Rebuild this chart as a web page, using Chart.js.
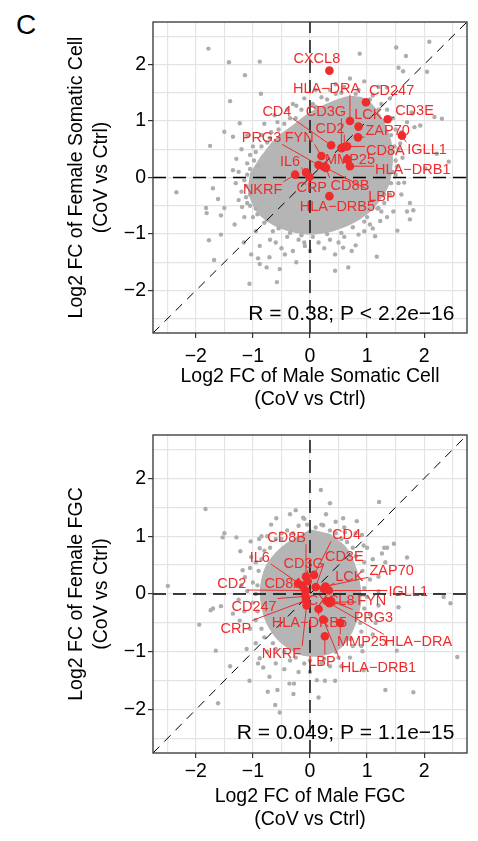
<!DOCTYPE html>
<html>
<head>
<meta charset="utf-8">
<script src="https://cdn.jsdelivr.net/npm/chart.js@4.4.0/dist/chart.umd.min.js"></script>
<style>
  body { margin: 0; background: #fff; width: 478px; height: 841px; position: relative; overflow: hidden; font-family: "Liberation Sans", Arial, sans-serif; }
  #letter { position: absolute; left: 16px; top: 11px; font-size: 28px; line-height: 1; color: #000; }
  .panel { position: absolute; left: 0; width: 478px; height: 420px; }
</style>
</head>
<body>
<div id="letter">C</div>
<div class="panel" style="top:0"><canvas id="topChart" width="478" height="420"></canvas></div>
<div class="panel" style="top:420px"><canvas id="bottomChart" width="478" height="420"></canvas></div>

<script>
// ---- data: somatic cells (top panel) ----
const topGenes = ["CXCL8","HLA\u2212DRA","CD247","CD3E","LCK","ZAP70","IGLL1","CD4","CD3G","CD2","CD8A","FYN","PRG3","MMP25","HLA\u2212DRB1","CD8B","LBP","IL6","NKRF","CRP","HLA\u2212DRB5"];
const topGenePts = [[0.34,1.89],[0.70,1.00],[0.98,1.33],[1.36,1.03],[0.85,0.90],[0.84,0.71],[1.61,0.74],[0.37,0.57],[0.55,0.52],[0.60,0.54],[0.65,0.55],[0.20,0.38],[0.15,0.22],[0.65,0.32],[0.70,0.20],[0.28,0.17],[0.24,0.19],[-0.07,0.09],[-0.26,0.05],[-0.01,0.01],[0.34,-0.33]];
const topLabelPos = [[0.12,2.11],[0.29,1.59],[1.43,1.54],[1.83,1.19],[1.02,1.12],[1.36,0.84],[2.05,0.50],[-0.58,1.17],[0.28,1.17],[0.35,0.88],[1.32,0.49],[-0.19,0.71],[-0.85,0.71],[0.70,0.32],[1.80,0.15],[0.70,-0.13],[1.26,-0.33],[-0.35,0.30],[-0.83,-0.20],[0.03,-0.17],[0.48,-0.50]];
const topCoreOuter = [[-0.86,0.38],[-0.60,0.70],[-0.30,0.93],[0,1.16],[0.35,1.33],[0.70,1.44],[1.00,1.38],[1.25,1.08],[1.42,0.66],[1.45,0.25],[1.37,-0.17],[1.13,-0.53],[0.83,-0.77],[0.41,-0.95],[-0.06,-1.01],[-0.55,-0.89],[-0.91,-0.64],[-1.08,-0.27],[-1.05,0.08]];
const topCoreInner = [[-0.72,0.33],[-0.48,0.63],[-0.18,0.87],[0.20,1.10],[0.62,1.27],[0.98,1.20],[1.20,0.80],[1.28,0.25],[1.15,-0.28],[0.78,-0.65],[0.22,-0.83],[-0.32,-0.76],[-0.74,-0.50],[-0.90,-0.08]];
const topGray = [
  [-1.78,2.28],[-1.42,2.04],[-0.88,2.05],[-1.14,1.81],[-0.86,1.48],[-1.40,1.35],[-1.23,0.96],[-1.50,0.81],[-1.35,0.72],[-1.75,0.56],[-0.24,1.27],[-0.57,0.98],[-1.29,0.33],[-1.35,0.13],
  [0.87,2.19],[1.51,2.30],[1.68,2.15],[2.09,2.40],[1.63,1.88],[1.55,1.94],[2.05,1.87],[1.35,1.59],[1.78,1.15],[1.70,0.98],[1.93,0.92],[2.31,1.04],[2.43,0.28],[2.22,0.42],[2.02,0.16],[1.80,1.13],[2.18,1.07],[1.83,0.89],
  [1.65,-0.09],[1.81,-0.58],[1.75,-0.74],[1.53,-0.94],[1.17,-1.40],[-0.58,-1.85],[-0.76,-1.59],[-0.91,-1.43],[-1.77,-1.11],[-1.81,-0.63],[-2.34,-0.26],[-1.61,-0.38],
  [-1.70,-0.19],[-1.50,-0.54],[-1.82,-0.54],[-1.56,-0.67],[-1.19,-0.52],[-1.32,-0.83],[-1.56,-1.01],[-1.68,-1.46],[-1.16,-1.15],[-1.03,-1.36],[-1.06,-1.88],[-0.88,-1.21],[-0.88,-1.53],[-0.53,-1.62],[-0.44,-1.36],[-0.24,-1.50],[-0.09,-1.21],[-0.71,-1.41],
  [0.44,-1.36],[0.44,-1.65],[0.67,-1.59],[0.73,-1.30],[0.85,-1.01],[1.05,-0.83],[1.23,-0.77],[1.46,-0.60],[1.20,-0.54],[1.70,-0.60],[1.75,-0.45],[1.14,-1.04],[0.58,-1.24],[1.58,0.60],[1.52,0.19],
  [-0.95,0.45],[-0.75,0.62],[-0.68,0.80],[-0.45,0.95],[-0.35,1.05],[-0.15,1.20],[0.05,1.30],[0.20,1.42],[0.45,1.48],[0.60,1.60],[0.85,1.55],[1.10,1.45],[1.25,1.30],[1.35,1.20],[1.50,0.85],[1.45,0.45],[1.50,0.05],[1.40,-0.30],[1.30,-0.45],[1.00,-0.70],[0.95,-0.95],[0.60,-1.05],[0.35,-1.10],[0.15,-1.15],[-0.20,-1.10],[-0.40,-1.05],[-0.65,-0.95],[-0.80,-0.80],[-1.00,-0.70],[-1.10,-0.45],[-1.20,-0.25],[-1.15,-0.05],[-1.10,0.25],[-1.00,0.55],
  [-0.90,0.20],[-1.05,-0.30],[-0.95,-0.55],[-0.70,-1.10],[-0.50,-1.25],[-0.30,-1.30],[0.00,-1.30],[0.25,-1.25],[0.80,-1.20],[1.10,-0.90],[1.35,-0.70],[1.60,-0.30],[1.62,0.35],[1.60,0.80],[1.45,1.05],[1.20,1.60],[0.95,1.70],[0.70,1.75],[0.45,1.65],[0.10,1.55],[-0.10,1.40],[-0.40,1.20],[-0.62,1.10],[-0.80,0.95],[-1.10,0.75],[-1.20,0.50],
  [-1.05,0.40],[-0.85,0.55],[-0.70,0.70],[-0.55,0.85],[-0.25,1.05],[0.10,1.25],[0.30,1.38],[0.55,1.50],[0.80,1.48],[1.05,1.38],[1.20,1.20],[1.32,1.00],[1.42,0.75],[1.48,0.55],[1.50,0.30],[1.45,0.10],[1.42,-0.10],[1.30,-0.30],[1.18,-0.55],[0.95,-0.78],[0.75,-0.88],[0.55,-0.98],[0.30,-1.00],[0.05,-1.05],[-0.15,-1.02],[-0.35,-0.98],[-0.55,-0.90],[-0.75,-0.75],[-0.92,-0.65],[-1.05,-0.50],[-1.12,-0.35],[-1.12,-0.15],[-1.10,0.05],[-1.05,0.15],[-0.98,0.30],[-1.25,0.10],[-1.30,-0.10],[-1.25,-0.40],[-1.15,-0.70],[-0.95,-0.95],[-0.60,-1.15],[-0.10,-1.15],[0.50,-1.15],[1.25,-0.60],[1.55,-0.10],[1.55,0.50],[1.40,1.40],[0.35,1.55],[-0.30,1.30],[-0.85,0.75]
];
const topStat = "R = 0.38; P < 2.2e\u221216";

// ---- data: FGC (bottom panel) ----
const botGenes = ["CD8B","CD4","IL6","CD3G","CD3E","ZAP70","CD2","CD8A","LCK","IGLL1","CXCL8","FYN","CD247","PRG3","CRP","HLA\u2212DRB5","MMP25","HLA\u2212DRA","NKRF","LBP","HLA\u2212DRB1"];
const botGenePts = [[-0.07,0.30],[0.07,0.33],[-0.13,0.14],[-0.04,0.22],[0.10,0.12],[0.27,0.13],[-0.08,0.06],[-0.21,0.18],[0.24,0.09],[0.33,0.06],[0.29,-0.12],[0.36,-0.14],[-0.08,-0.04],[0.37,-0.12],[-0.07,-0.11],[0.15,-0.26],[0.53,-0.50],[0.34,-0.16],[-0.06,-0.20],[0.26,-0.73],[0.23,-0.44]];
const botLabelPos = [[-0.41,0.98],[0.64,1.03],[-0.88,0.64],[-0.11,0.53],[0.60,0.65],[1.43,0.41],[-1.37,0.19],[-0.46,0.19],[0.69,0.31],[1.72,0.05],[0.37,-0.11],[1.08,-0.11],[-0.98,-0.20],[1.11,-0.39],[-1.30,-0.58],[-0.01,-0.49],[0.91,-0.82],[1.90,-0.82],[-0.50,-1.02],[0.21,-1.16],[1.20,-1.26]];
const botCoreOuter = [[0,1.12],[-0.48,0.83],[-0.78,0.48],[-0.88,0.01],[-0.78,-0.47],[-0.54,-0.82],[-0.18,-1.05],[0.18,-1.08],[0.54,-0.94],[0.78,-0.58],[0.90,-0.11],[0.84,0.36],[0.66,0.78],[0.35,1.04]];
const botCoreInner = [[0,0.90],[-0.40,0.64],[-0.62,0.26],[-0.66,-0.19],[-0.48,-0.64],[-0.14,-0.88],[0.24,-0.90],[0.58,-0.70],[0.73,-0.25],[0.70,0.26],[0.54,0.64],[0.28,0.87]];
const botGray = [
  [-1.83,1.47],[-1.50,1.05],[-1.53,0.98],[-1.29,0.98],[-2.49,0.14],[-1.22,0.74],[-1.04,0.91],[-0.89,0.95],[-0.59,1.31],[-0.35,1.38],[-0.12,1.32],[-0.68,1.20],[-0.88,0.79],[-1.03,0.64],[-1.18,0.41],
  [0.19,1.80],[0.35,1.57],[1.21,1.59],[0.28,1.38],[0.23,1.19],[0.58,1.31],[0.82,1.26],[0.61,1.07],[0.91,1.02],[1.30,0.80],[1.47,0.87],[1.26,0.70],[1.70,0.63],[0.94,0.84],[1.32,0.55],[1.35,0.80],
  [2.34,-0.05],[2.46,-0.16],[1.55,-0.23],[1.52,-0.98],[0.92,-0.99],[0.94,-1.32],[1.32,-1.66],[1.81,-1.70],[2.58,-1.09],[0.44,-1.50],[0.26,-1.50],[0.15,-1.79],[0.12,-1.49],[-0.28,-1.55],[-0.29,-1.73],[-0.57,-1.66],[-0.61,-1.92],[-0.53,-2.05],
  [-0.82,-1.27],[-1.11,-0.95],[-1.40,-1.25],[-1.61,-1.89],[-1.65,-0.98],[-1.94,-0.53],[-1.74,-0.28],[-1.35,-0.34],[-1.23,-0.46],[-1.14,0.29],[-1.70,-0.25],[-1.56,-0.21],[-1.06,-1.50],[-0.74,-1.69],[-0.91,-1.20],[-0.71,-1.43],[-0.36,-1.55],[-0.88,-1.11],
  [-0.95,0.55],[-0.80,0.75],[-0.60,0.95],[-0.40,1.10],[-0.20,1.18],[0.10,1.15],[0.35,1.10],[0.55,0.95],[0.75,0.80],[0.95,0.55],[1.05,0.25],[1.00,-0.05],[1.05,-0.35],[0.90,-0.65],[0.75,-0.90],[0.50,-1.10],[0.20,-1.20],[-0.10,-1.20],[-0.35,-1.15],[-0.60,-0.95],[-0.80,-0.75],[-0.95,-0.45],[-1.00,-0.15],[-1.00,0.20],
  [-1.10,0.05],[-1.05,-0.60],[-0.75,-1.00],[-0.45,-1.30],[0.00,-1.35],[0.35,-1.25],[0.70,-1.10],[1.10,-0.70],[1.20,-0.20],[1.20,0.30],[1.10,0.60],[0.80,1.05],[0.45,1.25],[-0.25,1.45],[-0.50,1.05],[-0.85,1.00],
  [-0.90,0.40],[-0.85,0.60],[-0.70,0.80],[-0.50,0.95],[-0.30,1.05],[-0.05,1.20],[0.20,1.20],[0.45,1.05],[0.65,0.90],[0.80,0.65],[0.92,0.40],[0.95,0.10],[0.95,-0.25],[0.88,-0.50],[0.70,-0.78],[0.45,-1.00],[0.25,-1.12],[0.00,-1.15],[-0.25,-1.10],[-0.45,-1.00],[-0.65,-0.85],[-0.85,-0.60],[-0.92,-0.30],[-0.95,0.00],[-0.92,0.15],[-1.15,-0.30],[-1.20,0.15],[-1.05,0.45],[-0.75,1.00],[-0.10,1.30],[0.60,1.15],[1.00,0.80],[1.20,0.05],[1.15,-0.50],[0.90,-0.90],[0.55,-1.25],[-0.20,-1.35],[-0.60,-1.20],[-0.95,-0.85],[-1.25,-0.10]
];
const botStat = "R = 0.049; P = 1.1e\u221215";

// reference lines (same for both panels)
const lim = 2.75;
const zeroH = [[-lim,0],[lim,0]];
const zeroV = [[0,-lim],[0,lim]];
const diag = [[-lim,-lim],[lim,lim]];
const tickVals = [-2.5,-2,-1.5,-1,-0.5,0,0.5,1,1.5,2,2.5];

const RED = "#ee2c2c";
const GRAY = "#adadad";
const CLOUD = "#b5b5b5";
const FONT = "'Liberation Sans', Arial, sans-serif";
Chart.defaults.font.family = FONT;
Chart.defaults.color = "#000";

const toXY = arr => arr.map(p => ({x: p[0], y: p[1]}));

const labelPlugin = {
  id: "geneLabels",
  beforeDatasetDraw(chart, args) {
    if (chart.data.datasets[args.index].label !== "genes") return;
    const o = chart.options.plugins.geneLabels;
    const xs = chart.scales.x, ys = chart.scales.y, ctx = chart.ctx;
    ctx.save();
    ctx.font = "14.5px " + FONT;
    ctx.textAlign = "center";
    ctx.textBaseline = "middle";
    ctx.strokeStyle = RED;
    ctx.fillStyle = RED;
    ctx.lineWidth = 1;
    o.names.forEach((name, i) => {
      const lx = xs.getPixelForValue(o.labels[i][0]), ly = ys.getPixelForValue(o.labels[i][1]);
      const px = xs.getPixelForValue(o.points[i][0]), py = ys.getPixelForValue(o.points[i][1]);
      const w = ctx.measureText(name).width / 2 + 1, h = 7;
      const nx = Math.min(Math.max(px, lx - w), lx + w);
      const ny = Math.min(Math.max(py, ly - h), ly + h);
      if (Math.hypot(px - nx, py - ny) > 6) {
        ctx.beginPath();
        ctx.moveTo(nx, ny);
        ctx.lineTo(px, py);
        ctx.stroke();
      }
    });
    o.names.forEach((name, i) => {
      ctx.fillText(name, xs.getPixelForValue(o.labels[i][0]), ys.getPixelForValue(o.labels[i][1]) + 1);
    });
    ctx.restore();
  },
  afterDraw(chart) {
    const o = chart.options.plugins.geneLabels;
    const a = chart.chartArea, ctx = chart.ctx;
    ctx.save();
    ctx.font = "21px " + FONT;
    ctx.fillStyle = "#000";
    ctx.textAlign = "right";
    ctx.textBaseline = "middle";
    ctx.fillText(o.stat, chart.scales.x.getPixelForValue(2.53), chart.scales.y.getPixelForValue(-2.41));
    ctx.strokeStyle = "#333";
    ctx.lineWidth = 1.3;
    ctx.strokeRect(a.left, a.top, a.right - a.left, a.bottom - a.top);
    ctx.restore();
  }
};

function makePanel(id, p) {
  const minus = v => (v < 0 ? "\u2212" : "") + Math.abs(v);
  const tickOpts = {
    autoSkip: false, maxRotation: 0,
    font: {size: 19.5}, color: "#000",
    callback: v => Number.isInteger(v) ? minus(v) : ""
  };
  const gridOpts = {
    color: "#e4e4e4", lineWidth: 1.2, tickLength: 5, tickWidth: 1.2,
    tickColor: c => (c.tick && Number.isInteger(c.tick.value)) ? "#333" : "rgba(0,0,0,0)"
  };
  new Chart(document.getElementById(id), {
    type: "scatter",
    data: {
      datasets: [
        {label: "genes", data: toXY(p.points), pointRadius: 4.3, pointHoverRadius: 4.3, backgroundColor: RED, borderWidth: 0, order: 0},
        {type: "line", data: toXY(zeroH), borderColor: "#000", borderWidth: 1.4, borderDash: [13, 7], pointRadius: 0, fill: false, order: 1},
        {type: "line", data: toXY(zeroV), borderColor: "#000", borderWidth: 1.4, borderDash: [13, 7], pointRadius: 0, fill: false, order: 1},
        {type: "line", data: toXY(diag), borderColor: "#000", borderWidth: 1, borderDash: [9, 7], pointRadius: 0, fill: false, order: 1},
        {label: "gray", data: toXY(p.gray), pointRadius: 2.2, backgroundColor: GRAY, borderWidth: 0, order: 2},
        {type: "line", data: toXY(p.inner), showLine: true, borderWidth: 0, borderColor: "rgba(0,0,0,0)", backgroundColor: CLOUD, fill: "shape", pointRadius: 0, order: 3, tension: 0.3},
        {type: "line", data: toXY(p.outer), showLine: true, borderWidth: 0, borderColor: "rgba(0,0,0,0)", backgroundColor: CLOUD, fill: "shape", pointRadius: 0, order: 4, tension: 0.3}
      ]
    },
    options: {
      responsive: false,
      animation: false,
      events: [],
      layout: {padding: {left: 0, right: 11, top: p.padTop, bottom: 0}},
      plugins: {
        legend: {display: false},
        tooltip: {enabled: false},
        geneLabels: {names: p.names, points: p.points, labels: p.labels, stat: p.stat}
      },
      scales: {
        x: {
          type: "linear", min: -lim, max: lim,
          afterBuildTicks: s => { s.ticks = tickVals.map(v => ({value: v})); },
          afterFit: s => { s.height = 87; },
          ticks: Object.assign({padding: p.xTickPad}, tickOpts),
          grid: gridOpts,
          border: {display: false},
          title: {display: true, text: p.xTitle, font: {size: 19.5, lineHeight: 1.2}, padding: {top: 0, bottom: 8.2}, color: "#000"}
        },
        y: {
          type: "linear", min: -lim, max: lim,
          afterBuildTicks: s => { s.ticks = tickVals.map(v => ({value: v})); },
          afterFit: s => { s.width = 153; },
          ticks: Object.assign({padding: 2}, tickOpts),
          grid: gridOpts,
          border: {display: false},
          title: {display: true, text: p.yTitle, font: {size: 19.5, lineHeight: 1.28}, padding: {top: 64.5, bottom: 0}, color: "#000"}
        }
      }
    },
    plugins: [labelPlugin]
  });
}

makePanel("topChart", {
  names: topGenes, points: topGenePts, labels: topLabelPos, gray: topGray,
  inner: topCoreInner, outer: topCoreOuter, stat: topStat, padTop: 22, xTickPad: 7.3,
  xTitle: ["Log2 FC of Male Somatic Cell", "(CoV vs Ctrl)"],
  yTitle: ["Log2 FC of Female Somatic Cell", "(CoV vs Ctrl)"]
});
makePanel("bottomChart", {
  names: botGenes, points: botGenePts, labels: botLabelPos, gray: botGray,
  inner: botCoreInner, outer: botCoreOuter, stat: botStat, padTop: 15, xTickPad: 1.7,
  xTitle: ["Log2 FC of Male FGC", "(CoV vs Ctrl)"],
  yTitle: ["Log2 FC of Female FGC", "(CoV vs Ctrl)"]
});
</script>
</body>
</html>
